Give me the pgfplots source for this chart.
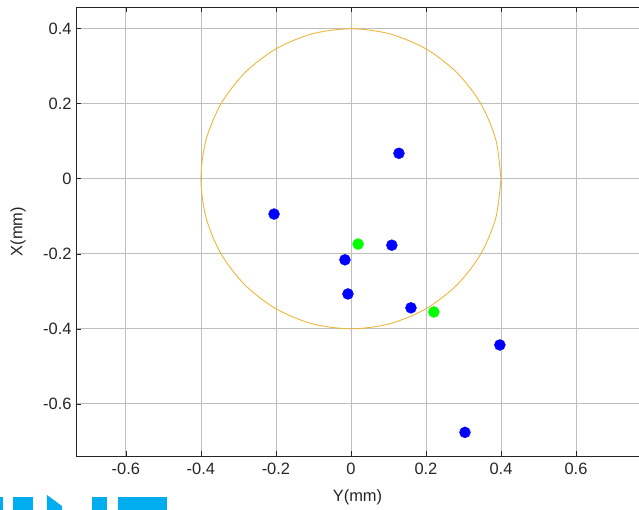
\documentclass[border=0pt]{standalone}
\usepackage{fontspec}
\setmainfont{Liberation Sans}
\usepackage{pgfplots}
\pgfplotsset{compat=1.18}
\definecolor{axgray}{RGB}{38,38,38}
\definecolor{gridgray}{RGB}{190,190,190}
\definecolor{circgold}{RGB}{237,182,60}
\definecolor{logocyan}{RGB}{0,174,239}
\begin{document}
\begin{tikzpicture}
\clip (-76bp,-54bp) rectangle (563bp,456bp);
\fill[logocyan] (-76bp,-54bp) rectangle (-73bp,-41bp);
\fill[logocyan] (-63bp,-54bp) rectangle (-43bp,-41bp);
\fill[logocyan] (-29bp,-54bp) -- (-29bp,-39bp) -- (-14bp,-50bp) -- (-14bp,-54bp) -- cycle;
\fill[logocyan] (16bp,-54bp) rectangle (31bp,-41bp);
\fill[logocyan] (42bp,-54bp) rectangle (91bp,-41bp);
\begin{axis}[
  at={(0,0)}, anchor=south west,
  scale only axis, width=563bp, height=449bp,
  xmin=-0.733, xmax=0.768, ymin=-0.739, ymax=0.458,
  axis x line*=box, axis y line*=left,
  xtick={-0.6,-0.4,-0.2,0,0.2,0.4,0.6},
  ytick={-0.6,-0.4,-0.2,0,0.2,0.4},
  xticklabels={-0.6,-0.4,-0.2,0,0.2,0.4,0.6},
  yticklabels={-0.6,-0.4,-0.2,0,0.2,0.4},
  tick align=inside, major tick length=5bp,
  tick style={color=axgray, line width=0.6bp},
  axis line style={color=axgray, line width=0.8bp},
  grid=major, major grid style={color=gridgray, line width=0.8bp},
  font=\fontsize{16.5}{19}\selectfont,
  ticklabel style={color=axgray},
  xticklabel style={yshift=-4bp},
  yticklabel style={xshift=-1bp},
  /pgf/number format/assume math mode=true,
  xlabel={Y(mm)}, ylabel={X(mm)},
  label style={color=axgray},
  xlabel style={at={(axis description cs:0.5,0)}, anchor=center, yshift=-41bp},
  ylabel style={at={(axis description cs:0,0.5)}, anchor=center, rotate=0, yshift=58bp},
  clip=false,
]
\addplot[color=circgold, line width=0.9bp, smooth] coordinates {
(0.4,0) (0.3864,0.1035) (0.3464,0.2) (0.2828,0.2828) (0.2,0.3464) (0.1035,0.3864)
(0,0.4) (-0.1035,0.3864) (-0.2,0.3464) (-0.2828,0.2828) (-0.3464,0.2) (-0.3864,0.1035)
(-0.4,0) (-0.3864,-0.1035) (-0.3464,-0.2) (-0.2828,-0.2828) (-0.2,-0.3464) (-0.1035,-0.3864)
(0,-0.4) (0.1035,-0.3864) (0.2,-0.3464) (0.2828,-0.2828) (0.3464,-0.2) (0.3864,-0.1035) (0.4,0)
};
\addplot[only marks, mark=*, mark size=5.5bp, mark options={fill=blue, draw=blue}] coordinates {
(0.128,0.068) (-0.205,-0.094) (-0.016,-0.216) (-0.008,-0.307)
(0.109,-0.177) (0.160,-0.344) (0.397,-0.443) (0.304,-0.676)
};
\addplot[only marks, mark=*, mark size=5.5bp, mark options={fill={rgb,255:red,0;green,255;blue,0}, draw={rgb,255:red,0;green,255;blue,0}}] coordinates {
(0.019,-0.174) (0.221,-0.355)
};
\end{axis}
\end{tikzpicture}
\end{document}
